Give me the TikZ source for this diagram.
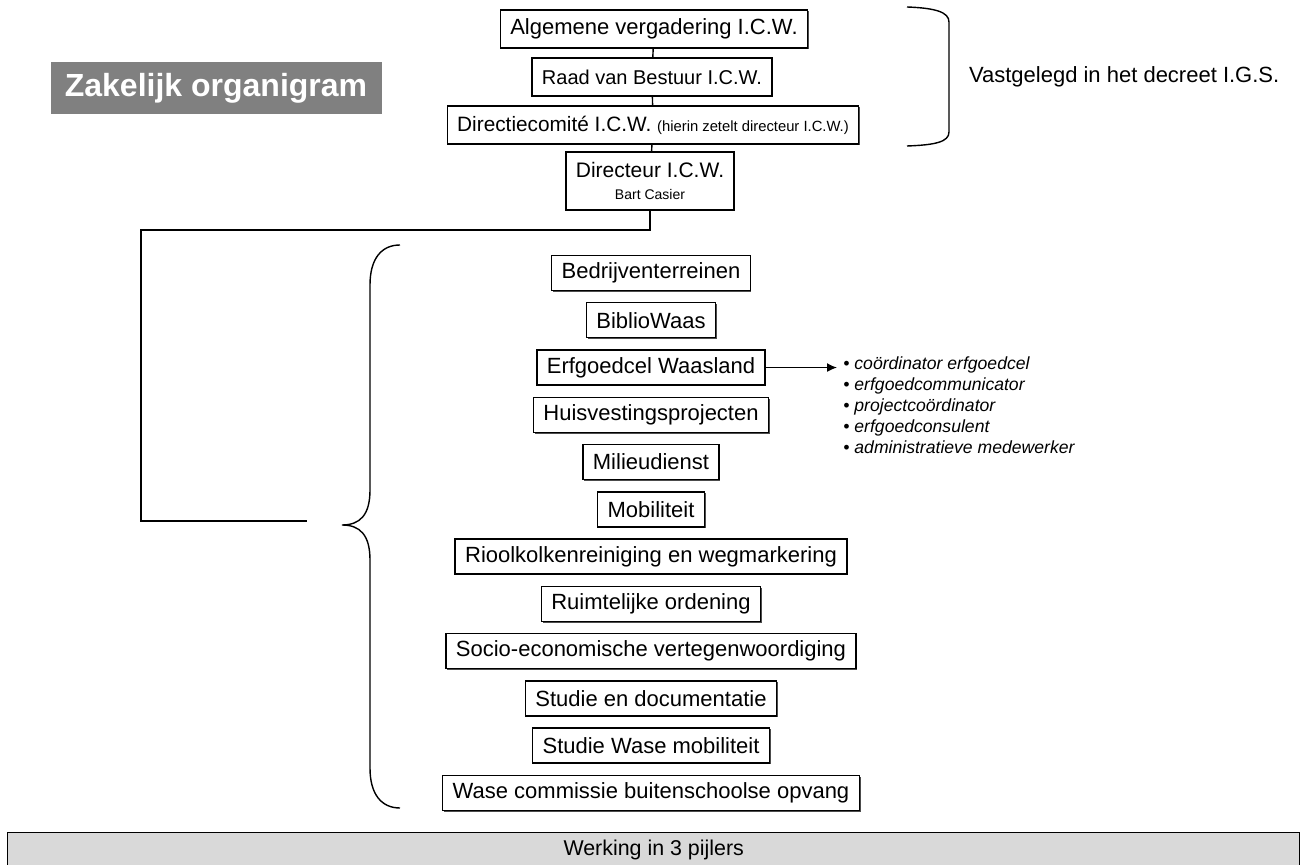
\documentclass[tikz,border=0pt]{standalone}
\usepackage{fontspec}
\setmainfont{Liberation Sans}
\usetikzlibrary{arrows.meta,shadows}

\tikzset{
  wire/.style={line width=0.7pt},
  unit/.style={draw, wire, fill=white, inner xsep=5pt, minimum height=17.5pt,
    font=\fontsize{11}{13}\selectfont,
    drop shadow={shadow xshift=0.6pt, shadow yshift=-0.6pt, opacity=0.7, fill=black}},
  bestuur/.style={unit, minimum height=19pt},
}

\begin{document}
\begin{tikzpicture}[x=0.5pt,y=-0.5pt]
\useasboundingbox (0,0) rectangle (1303,865);

% titel
\node[fill=black!50, text=white, font=\fontsize{16}{19}\selectfont\bfseries,
  minimum width=165.5pt, minimum height=26pt] (titel) at (216,88) {Zakelijk organigram};

% bestuursorganen
\node[bestuur] (av) at (654,29) {Algemene vergadering I.C.W.};
\node[bestuur, font=\fontsize{10}{12}\selectfont] (rvb) at (652,77) {Raad van Bestuur I.C.W.};
\node[bestuur, font=\fontsize{10.4}{12}\selectfont] (dc) at (653,125)
  {Directiecomité I.C.W. {\fontsize{7.4}{9}\selectfont(hierin zetelt directeur I.C.W.)}};
\node[bestuur, align=center, minimum height=29pt, font=\fontsize{10.5}{12}\selectfont] (dir) at (650,181)
  {Directeur I.C.W.\\[-1pt]{\fontsize{7}{8}\selectfont Bart Casier}};

\draw[wire] (av) -- (rvb);
\draw[wire] (rvb) -- (dc);
\draw[wire] (dc) -- (dir);

% wettelijk kader
\draw[wire] (907,7) .. controls (935,8) and (949,12) .. (949,22) -- (949,132)
  .. controls (949,142) and (935,145) .. (907,146);
\node[anchor=west, font=\fontsize{11}{13}\selectfont] (wet) at (962,77) {Vastgelegd in het decreet I.G.S.};

% naar de diensten
\coordinate (hoek) at (141,230);
\coordinate (eind) at (307,521);
\draw[wire] (dir.south) |- (hoek) |- (eind);

% accolade
\draw[wire] (400,245) .. controls (382,245) and (370,258) .. (370,285) -- (370,490)
  .. controls (370,515) and (360,525) .. (342,525)
  .. controls (360,525) and (370,535) .. (370,560) -- (370,768)
  .. controls (370,795) and (382,808) .. (400,808);

% diensten
\foreach \t [count=\i] in {Bedrijventerreinen, BiblioWaas, Erfgoedcel Waasland,
  Huisvestingsprojecten, Milieudienst, Mobiliteit, Rioolkolkenreiniging en wegmarkering,
  Ruimtelijke ordening, Socio-economische vertegenwoordiging, Studie en documentatie,
  Studie Wase mobiliteit, Wase commissie buitenschoolse opvang}
  \node[unit] (d\i) at (651,{273+47.27*(\i-1)}) {\t};

% personeel erfgoedcel
\node[anchor=west, align=left, inner sep=0pt, font=\fontsize{8.8}{10.5}\selectfont\itshape]
  (taken) at (843,405) {• coördinator erfgoedcel\\• erfgoedcommunicator\\• projectcoördinator\\
  • erfgoedconsulent\\• administratieve medewerker};
\draw[wire, -{Latex[length=5pt,width=4.5pt]}, shorten >=3pt] (d3.east) -- (d3.east -| taken.west);

% pijlers
\node[draw, wire, fill=black!15, anchor=north west, minimum width=646pt, minimum height=17pt,
  font=\fontsize{10.7}{13}\selectfont] (pijlers) at (7,832) {Werking in 3 pijlers};
\end{tikzpicture}
\end{document}
